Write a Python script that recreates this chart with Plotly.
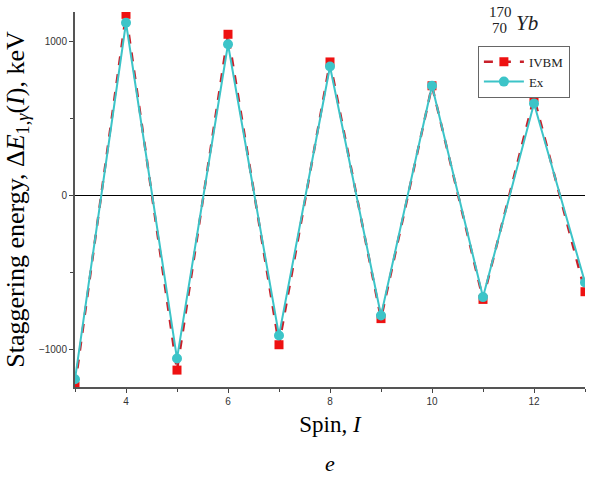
import plotly.graph_objects as go

spin = [3, 4, 5, 6, 7, 8, 9, 10, 11, 12, 13]
ivbm = [-1240, 1180, -1135, 1050, -970, 870, -800, 715, -675, 640, -625]
ex = [-1195, 1125, -1060, 985, -910, 840, -780, 715, -660, 600, -565]
x_ticks = [4, 6, 8, 10, 12]
y_ticks = [-1000, 0, 1000]

fig = go.Figure()
fig.add_trace(go.Scatter(
    x=spin, y=ivbm, name="IVBM", mode="lines+markers",
    line=dict(color="#c8202a", width=2.5, dash="dash"),
    marker=dict(symbol="square", size=9, color="#ee1111"),
))
fig.add_trace(go.Scatter(
    x=spin, y=ex, name="Ex", mode="lines+markers",
    line=dict(color="#3cc4c8", width=2),
    marker=dict(symbol="circle", size=10, color="#3cc4c8"),
))

fig.update_layout(
    width=593, height=481,
    margin=dict(l=75, r=8, t=12, b=94),
    plot_bgcolor="white", paper_bgcolor="white",
    showlegend=True,
    legend=dict(
        x=0.79, y=0.91, xanchor="left", yanchor="top",
        bgcolor="white", bordercolor="#666666", borderwidth=1,
        font=dict(family="Liberation Serif", size=13, color="#222222"),
        tracegroupgap=0, itemwidth=40,
    ),
    xaxis=dict(
        range=[3, 13], tickvals=x_ticks, ticks="outside", ticklen=4,
        tickcolor="#444444", showgrid=False, zeroline=False,
        showline=True, linecolor="#555555", linewidth=2,
        tickfont=dict(family="Arial Black, Arial", size=10, color="#333333"),
        minor=dict(dtick=1, tick0=3, ticks="outside", ticklen=3, tickcolor="#444444"),
        title=dict(text="Spin, <i>I</i>", font=dict(family="Liberation Serif", size=23, color="black"), standoff=10),
    ),
    yaxis=dict(
        range=[-1245, 1195], tickvals=y_ticks, ticks="outside", ticklen=4,
        tickcolor="#444444", showgrid=False,
        zeroline=True, zerolinecolor="black", zerolinewidth=1,
        showline=True, linecolor="#555555", linewidth=2,
        tickfont=dict(family="Arial Black, Arial", size=10, color="#333333"),
        minor=dict(dtick=500, tick0=0, ticks="outside", ticklen=3, tickcolor="#444444"),
        title=dict(text="Staggering energy, Δ<i>E</i><sub>1,<i>γ</i></sub>(<i>I</i>), keV",
                   font=dict(family="Liberation Serif", size=26, color="black"), standoff=7),
    ),
)

fig.add_annotation(xref="paper", yref="paper", x=0.835, y=1.0, xanchor="center", yanchor="middle",
                   text="170", showarrow=False, font=dict(family="Liberation Serif", size=15, color="#222222"))
fig.add_annotation(xref="paper", yref="paper", x=0.832, y=0.958, xanchor="center", yanchor="middle",
                   text="70", showarrow=False, font=dict(family="Liberation Serif", size=15, color="#222222"))
fig.add_annotation(xref="paper", yref="paper", x=0.86, y=0.972, xanchor="left", yanchor="middle",
                   text="<i>Yb</i>", showarrow=False, font=dict(family="Liberation Serif", size=21, color="#222222"))
fig.add_annotation(xref="paper", yref="paper", x=0.5, y=-0.205, xanchor="center", yanchor="middle",
                   text="<i>e</i>", showarrow=False, font=dict(family="Liberation Serif", size=22, color="black"))

fig.write_html("out.html")
